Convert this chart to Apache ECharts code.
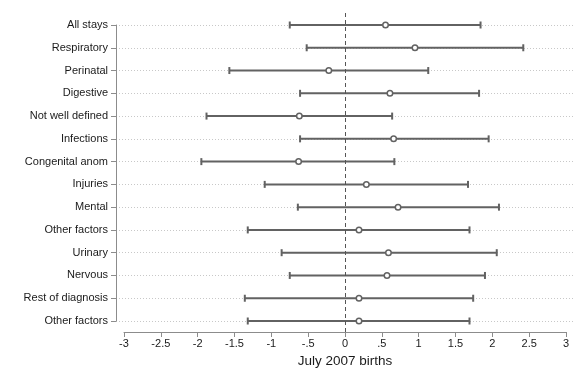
<!DOCTYPE html>
<html>
<head>
<meta charset="utf-8">
<script src="https://cdn.jsdelivr.net/npm/echarts@6/dist/echarts.min.js"></script>
<style>html,body{margin:0;padding:0;background:#fff;}#c{width:588px;height:392px;}</style>
</head>
<body>
<div id="c"></div>
<script>
var categories = ["All stays","Respiratory","Perinatal","Digestive","Not well defined","Infections","Congenital anom","Injuries","Mental","Other factors","Urinary","Nervous","Rest of diagnosis","Other factors"];
var pointEst = [0.55, 0.95, -0.22, 0.61, -0.62, 0.66, -0.63, 0.29, 0.72, 0.19, 0.59, 0.57, 0.19, 0.19];
var lowerCI  = [-0.75, -0.52, -1.57, -0.61, -1.88, -0.61, -1.95, -1.09, -0.64, -1.32, -0.86, -0.75, -1.36, -1.32];
var upperCI  = [1.84, 2.42, 1.13, 1.82, 0.64, 1.95, 0.67, 1.67, 2.09, 1.69, 2.06, 1.90, 1.74, 1.69];
var xTickValues = [-3,-2.5,-2,-1.5,-1,-0.5,0,0.5,1,1.5,2,2.5,3];
var xTickLabels = ["-3","-2.5","-2","-1.5","-1","-.5","0",".5","1","1.5","2","2.5","3"];
var xTitle = "July 2007 births";

var barColor = '#626262';
var font = 'Liberation Sans, Arial, sans-serif';

var ciData = categories.map(function(c,i){ return [lowerCI[i], upperCI[i], i]; });
var ptData = categories.map(function(c,i){ return [pointEst[i], i]; });

var chart = echarts.init(document.getElementById('c'), null, {renderer:'canvas'});
chart.setOption({
  animation: false,
  backgroundColor: '#fff',
  grid: [
    {left: 124, right: 22, top: 13, bottom: 60},
    {left: 116, right: 13, top: 25, bottom: 71}
  ],
  xAxis: [
    {
      gridIndex: 0, type: 'value', min: -3, max: 3, interval: 0.5, position: 'bottom',
      axisLine: {show: true, onZero: false, lineStyle: {color: '#8c8c8c', width: 1}},
      axisTick: {show: true, length: 5, lineStyle: {color: '#8c8c8c'}},
      splitLine: {show: false},
      axisLabel: {
        margin: 6, fontSize: 11, color: '#1a1a1a', fontFamily: font,
        formatter: function(v){ var k = xTickValues.indexOf(Math.round(v*10)/10); return k >= 0 ? xTickLabels[k] : ''; }
      },
      name: xTitle, nameLocation: 'middle', nameGap: 22,
      nameTextStyle: {fontSize: 13.5, color: '#1a1a1a', fontFamily: font}
    },
    {gridIndex: 1, type: 'value', min: 0, max: 1, show: false}
  ],
  yAxis: [
    {
      gridIndex: 0, type: 'value', inverse: true, min: -0.527, max: 13.483, show: false
    },
    {
      gridIndex: 1, type: 'category', data: categories, inverse: true, boundaryGap: false,
      axisLine: {show: true, onZero: false, lineStyle: {color: '#8c8c8c', width: 1}},
      axisTick: {show: true, length: 5, alignWithLabel: true, lineStyle: {color: '#8c8c8c'}},
      axisLabel: {margin: 8, fontSize: 11, color: '#1a1a1a', fontFamily: font, interval: 0},
      splitLine: {show: true, interval: 0, lineStyle: {color: '#c8c8c8', type: [1, 2], width: 1}}
    }
  ],
  series: [
    {
      type: 'custom', xAxisIndex: 0, yAxisIndex: 0, data: ciData,
      renderItem: function(params, api){
        var a = api.coord([api.value(0), api.value(2)]);
        var b = api.coord([api.value(1), api.value(2)]);
        var st = {stroke: barColor, lineWidth: 2};
        return {type: 'group', children: [
          {type: 'line', shape: {x1: a[0], y1: a[1], x2: b[0], y2: b[1]}, style: st},
          {type: 'line', shape: {x1: a[0], y1: a[1]-3.5, x2: a[0], y2: a[1]+3.5}, style: st},
          {type: 'line', shape: {x1: b[0], y1: b[1]-3.5, x2: b[0], y2: b[1]+3.5}, style: st}
        ]};
      },
      markLine: {
        silent: true, symbol: 'none', label: {show: false},
        lineStyle: {color: '#555', type: [4, 3], width: 1},
        data: [{xAxis: 0}]
      },
      z: 2
    },
    {
      type: 'scatter', xAxisIndex: 0, yAxisIndex: 0, data: ptData,
      symbol: 'circle', symbolSize: 5.5,
      itemStyle: {color: '#fff', borderColor: barColor, borderWidth: 1.5, opacity: 1},
      z: 3
    }
  ]
});
</script>
</body>
</html>
